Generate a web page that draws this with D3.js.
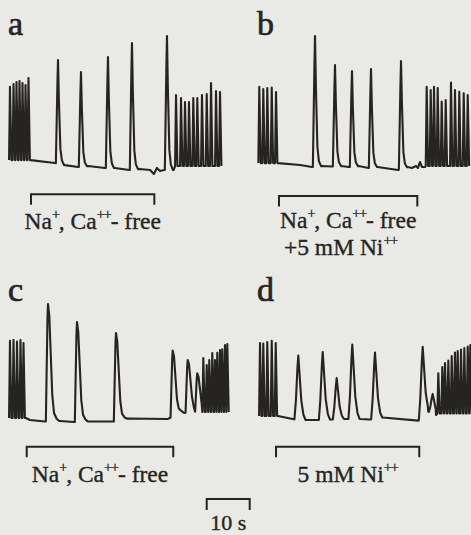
<!DOCTYPE html>
<html><head><meta charset="utf-8">
<script src="https://cdn.jsdelivr.net/npm/d3@7"></script>
<style>html,body{margin:0;padding:0;background:#e9e9e6;}svg{display:block}</style>
</head><body>
<svg id="fig" width="471" height="535"></svg>
<script>
// ---------------- data: time (s), membrane potential (mV) ----------------
// Panel a
const aBurstL  = { t:[0.23,1.05,1.74,2.44,3.14,3.84,4.53], v:[-17.1,-15.5,-14.5,-13.9,-15.0,-16.1,-12.3], trough:-56.3 };
const aSpikes  = { t:[11.40,16.74,23.02,28.60,36.74], v:[-2.7,-9.1,-1.1,6.4,10.2] };
const aBurstR  = { t:[38.84,40.0,40.93,41.86,42.86,43.79,44.88,45.98,46.98,48.14,49.07], v:[-21.4,-23.0,-25.2,-25.2,-23.0,-23.0,-21.4,-20.9,-15.0,-19.3,-19.8], trough:-59.5 };
const aBaseT   = [5.0,10.7,13.0,16.1,18.4,22.3,24.6,28.0,30.3,32.8,33.7,34.4,35.1,36.1,38.3];
const aBaseV   = [-56.3,-57.9,-59.0,-60,-59.5,-60.5,-60.5,-61.6,-61.1,-61.6,-63.75,-60.5,-62.1,-61.6,-61.6];
// Panel b
const bBurstL  = { t:[0.30,1.23,2.16,3.19,4.19], v:[-17.1,-18.2,-17.7,-17.4,-19.8], trough:-57.9 };
const bSpikes  = { t:[13.26,17.91,21.86,26.28,33.26], v:[10.2,-5.4,-8.6,-7.5,-3.2] };
const bBurstR  = { t:[39.23,40.16,40.93,41.79,42.72,43.65,44.88,45.81,46.81,47.84,48.77], v:[-17.0,-18.75,-17.0,-17.7,-25.0,-24.1,-14.8,-18.75,-19.7,-20.5,-21.4], trough:-59.5 };
const bBaseT   = [4.7,9.77,12.56,14.8,17.21,19.4,21.16,23.4,25.7,27.8,32.56,34.8,35.8,36.74,37.2,37.67,38.14,38.84];
const bBaseV   = [-57.9,-58.9,-60,-59.5,-59.7,-59.5,-60,-59.5,-60.5,-60,-61.6,-60,-60.5,-59.5,-60.5,-57.3,-60,-60];
// Panel c
const cBurstL  = { t:[0.23,1.05,1.86,2.67,3.37], v:[-17.1,-16.6,-17.5,-16.6,-18.2], trough:-58.4 };
const cSpikes  = { t:[9.07,15.81,24.88,38.07,41.56,43.79], v:[2.7,-7.0,-12.9,-22.3,-27.3,-34.4] };
const cBurstR  = { t:[45.19,45.98,46.58,47.28,47.91,48.44,49.07,49.60,50.23,50.77], v:[-26.25,-30.0,-27.3,-23.6,-27.3,-23.4,-22.0,-21.6,-19.3,-18.75], trough:-55.2 };
const cBaseT   = [3.9,4.88,8.37,11.8,15.12,18.5,24.19,27.6,36.98,39.77,40.93,42.49,43.26,44.42];
const cBaseV   = [-58.4,-59.5,-60.3,-60,-60.5,-60.3,-60.3,-58.7,-58.9,-55.2,-55.7,-53.0,-55.0,-55.0];
// Panel d
const dBurstL  = { t:[0.47,1.23,2.16,3.19,4.12], v:[-18.2,-18.5,-17.7,-17.1,-18.2], trough:-57.3 };
const dSpikes  = { t:[9.37,15.05,18.30,21.93,27.21,38.30,40.63], v:[-24.9,-23.0,-37.0,-19.0,-23.3,-20.2,-45.5] };
const dBurstR  = { t:[41.93,42.86,43.49,44.26,45.05,45.81,46.44,47.21,47.98,48.77,49.37], v:[-34.4,-31.1,-28.9,-27.6,-25.2,-23.3,-22.5,-21.7,-20.9,-20.1,-19.3], trough:-56.0 };
const dBaseT   = [4.65,8.37,11.2,13.95,16.9,20.3,23.8,26.05,29.0,37.3,39.6,41.4];
const dBaseV   = [-57.3,-59.1,-59.5,-59.5,-59.2,-58.9,-58.9,-59.2,-58.1,-59.8,-55.0,-56.8];

// perfusion periods (s) and labels
const panelLetters = ["a","b","c","d"];
const periodStart  = [5.12, 4.88, 4.12, 4.19];
const periodEnd    = [33.8, 37.05, 38.2, 37.5];
const periodLabels = [
  ["Na^+, Ca^++- free"],
  ["Na^+, Ca^++- free", "+5 mM Ni^++"],
  ["Na^+, Ca^++- free"],
  ["5 mM Ni^++"]
];
const scaleBarStart = 45.98, scaleBarLen = 10, scaleBarLabel = "10 s";

// ---------------- drawing ----------------
const ink = "#252423";
const FONT = "'Liberation Serif','Times New Roman',Times,serif";
const svg = d3.select("#fig");
svg.append("rect").attr("width",471).attr("height",535).attr("fill","#e9e9e6");

// waveform templates: [dt (s), fraction of amplitude]
const shapeNarrow = [[-0.5,0],[-0.15,0.75],[0,1],[0.2,0.62],[0.55,0.15],[0.9,0.04],[1.4,0]];
const shapeBroad  = [[-0.5,0],[-0.12,0.88],[0,1],[0.3,0.9],[1.0,0.22],[1.4,0.07],[2.0,0.02],[2.6,0]];
const shapeRound  = [[-0.9,0],[-0.55,0.3],[-0.2,0.8],[0,1],[0.2,0.8],[0.7,0.3],[1.2,0.08],[1.7,0]];
const shapeBurst  = [[-0.22,0],[0,1],[0.33,0]];

function buildTrace(baseT, baseV, spikes, shape, bursts) {
  const baseFn = d3.scaleLinear().domain(baseT).range(baseV).clamp(true);
  const ev = [];
  spikes.t.forEach((t,i)=>ev.push({t, peak:spikes.v[i], shape, trough:null}));
  bursts.forEach(b=>b.t.forEach((t,i)=>ev.push({t, peak:b.v[i], shape:shapeBurst, trough:b.trough})));
  ev.sort((p,q)=>p.t-q.t);
  const pts = [], spans = [];
  ev.forEach((e,i)=>{
    const nx = ev[i+1];
    const cutoff = nx ? nx.t + nx.shape[0][0] : Infinity;
    const B0 = e.trough !== null ? e.trough : baseFn(e.t);
    const A = e.peak - B0;
    const s0 = e.t + e.shape[0][0];
    let last = s0;
    e.shape.forEach(([dt,f])=>{
      const tt = e.t + dt;
      if (dt > 0 && tt >= cutoff) return;
      const b = e.trough !== null ? e.trough : baseFn(tt);
      pts.push([tt, b + f*A]);
      last = Math.max(last, tt);
    });
    spans.push([s0, last]);
  });
  baseT.forEach((t,i)=>{
    if (!spans.some(([s,e])=>t>=s-0.05 && t<=e+0.05)) pts.push([t, baseV[i]]);
  });
  pts.sort((p,q)=>p[0]-q[0]);
  return pts;
}

const panels = [
  {x0:9,   yBase:167, pts:buildTrace(aBaseT,aBaseV,aSpikes,shapeNarrow,[aBurstL,aBurstR]), brY:194.3, labY:229, letY:35},
  {x0:258, yBase:167, pts:buildTrace(bBaseT,bBaseV,bSpikes,shapeNarrow,[bBurstL,bBurstR]), brY:196,   labY:228, letY:35},
  {x0:9,   yBase:421, pts:buildTrace(cBaseT,cBaseV,cSpikes,shapeBroad,[cBurstL,cBurstR]),  brY:446.7, labY:482, letY:301},
  {x0:258, yBase:421, pts:buildTrace(dBaseT,dBaseV,dSpikes,shapeRound,[dBurstL,dBurstR]),  brY:446.7, labY:482, letY:301}
];

function addLabel(sel, str, x, y, fs) {
  const txt = sel.append("text").attr("x",x).attr("y",y).attr("text-anchor","middle")
    .attr("font-family",FONT).attr("font-size",fs).attr("fill",ink)
    .attr("stroke",ink).attr("stroke-width",0.35);
  const parts = str.split(/(\^\+\+|\^\+)/).filter(s=>s.length);
  let pending = 0;
  parts.forEach(p=>{
    if (p[0]==="^") {
      txt.append("tspan").attr("dy",-fs*0.42).attr("font-size",fs*0.6)
        .attr("letter-spacing",-1).text(p.slice(1));
      pending = fs*0.42;
    } else {
      const ts = txt.append("tspan").text(p);
      if (pending) { ts.attr("dy",pending); pending = 0; }
    }
  });
  return txt;
}

panels.forEach((p,i)=>{
  const x = d3.scaleLinear().domain([0,50]).range([p.x0, p.x0+215]);
  const y = d3.scaleLinear().domain([-60,10]).range([p.yBase, p.yBase-130.67]);
  const g = svg.append("g");
  g.append("path").datum(p.pts)
    .attr("d", d3.line().x(d=>x(d[0])).y(d=>y(d[1])))
    .attr("fill","none").attr("stroke",ink).attr("stroke-width",2.1)
    .attr("stroke-linejoin","round");
  // perfusion bracket
  const bx0 = x(periodStart[i]), bx1 = x(periodEnd[i]);
  g.append("path").attr("d",`M${bx0},${p.brY+10.5}V${p.brY}H${bx1}V${p.brY+10.5}`)
    .attr("fill","none").attr("stroke",ink).attr("stroke-width",2);
  const cx = (bx0+bx1)/2;
  periodLabels[i].forEach((s,k)=>{
    addLabel(g, s, cx + (k===1 ? -7.5 : 0), p.labY + k*27, 23.5);
  });
  g.append("text").attr("x",p.x0-1).attr("y",p.letY)
    .attr("font-family",FONT).attr("font-size",34)
    .attr("fill",ink).attr("stroke",ink).attr("stroke-width",0.7).text(panelLetters[i]);
  if (i===2) {
    const sx0 = x(scaleBarStart), sx1 = x(scaleBarStart+scaleBarLen);
    g.append("path").attr("d",`M${sx0},510V499H${sx1}V510`)
      .attr("fill","none").attr("stroke",ink).attr("stroke-width",2);
    g.append("text").attr("x",(sx0+sx1)/2).attr("y",530).attr("text-anchor","middle")
      .attr("font-family",FONT).attr("font-size",22)
      .attr("fill",ink).attr("stroke",ink).attr("stroke-width",0.35).text(scaleBarLabel);
  }
});
</script>
</body></html>
